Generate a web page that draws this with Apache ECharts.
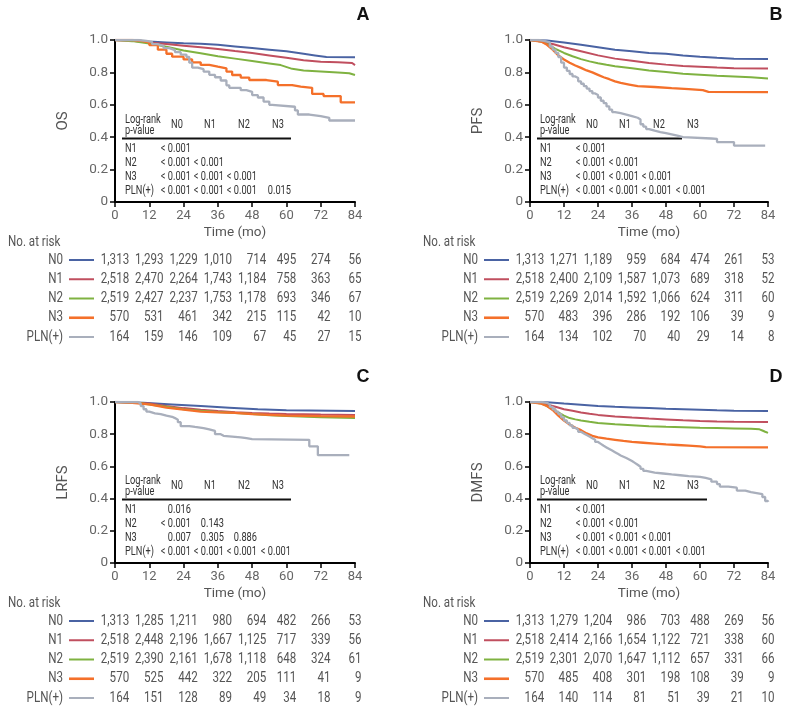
<!DOCTYPE html>
<html><head><meta charset="utf-8">
<script src="https://cdn.jsdelivr.net/npm/echarts@6/dist/echarts.min.js"></script>
<style>html,body{margin:0;padding:0;background:#fff}#c{width:790px;height:713px}</style>
</head><body><div id="c"></div>
<script>
// ---------------- DATA ----------------
const timeTicks = [0, 12, 24, 36, 48, 60, 72, 84];
const groups = ['N0', 'N1', 'N2', 'N3', 'PLN(+)'];
const panelLetters = ['A', 'B', 'C', 'D'];
const endpoints = ['OS', 'PFS', 'LRFS', 'DMFS'];
const pHeader = ['N0', 'N1', 'N2', 'N3'];
const pRows = ['N1', 'N2', 'N3', 'PLN(+)'];

// Kaplan-Meier curves [month, survival]
const osN0 = [[0,1],[6,0.998],[12,0.99],[18,0.985],[24,0.98],[30,0.977],[36,0.97],[42,0.96],[48,0.95],[54,0.94],[60,0.93],[66,0.915],[70,0.905],[74,0.895],[84,0.893]];
const osN1 = [[0,1],[6,0.995],[12,0.985],[18,0.975],[24,0.965],[30,0.955],[36,0.945],[42,0.932],[48,0.92],[54,0.905],[60,0.89],[66,0.875],[72,0.865],[78,0.862],[83,0.858],[84,0.845]];
const osN2 = [[0,1],[6,0.993],[12,0.978],[18,0.958],[24,0.935],[30,0.918],[36,0.9],[42,0.885],[48,0.87],[54,0.855],[58,0.845],[62,0.822],[66,0.812],[72,0.806],[78,0.8],[82,0.795],[84,0.784]];
const osN3 = [[0,1],[6,0.995],[9,0.985],[12,0.969],[15,0.94],[18,0.915],[20,0.897],[24,0.88],[27,0.862],[30,0.846],[33,0.835],[36,0.825],[39,0.805],[41,0.784],[44,0.768],[47,0.753],[53,0.743],[57,0.722],[62,0.712],[65,0.705],[69,0.667],[73,0.654],[79,0.615],[84,0.613]];
const osPLN = [[0,1],[8,0.994],[11,0.988],[13,0.975],[15,0.963],[17,0.95],[19,0.938],[21,0.925],[23,0.91],[25,0.895],[26,0.86],[27,0.83],[29,0.82],[31,0.805],[33,0.785],[35,0.77],[37,0.75],[39,0.72],[40,0.705],[44,0.69],[46,0.68],[48,0.66],[50,0.645],[52,0.62],[54,0.6],[55,0.588],[63,0.565],[64,0.54],[68,0.53],[72,0.52],[75,0.503],[84,0.503]];

const pfsN0 = [[0,1],[6,0.997],[12,0.985],[18,0.97],[24,0.955],[30,0.94],[36,0.93],[42,0.92],[48,0.915],[54,0.905],[60,0.897],[66,0.89],[72,0.885],[84,0.883]];
const pfsN1 = [[0,1],[4,0.99],[8,0.975],[12,0.955],[18,0.93],[24,0.905],[30,0.885],[36,0.872],[42,0.858],[48,0.848],[54,0.84],[60,0.835],[66,0.83],[72,0.826],[84,0.824]];
const pfsN2 = [[0,1],[4,0.99],[6,0.975],[9,0.945],[12,0.92],[15,0.9],[18,0.882],[21,0.868],[24,0.857],[27,0.847],[30,0.838],[36,0.825],[42,0.812],[48,0.802],[54,0.792],[60,0.786],[66,0.78],[72,0.775],[78,0.77],[84,0.763]];
const pfsN3 = [[0,1],[4,0.99],[6,0.97],[8,0.94],[10,0.905],[12,0.88],[14,0.86],[16,0.843],[18,0.828],[20,0.812],[22,0.8],[24,0.785],[26,0.77],[28,0.758],[30,0.745],[32,0.735],[35,0.725],[38,0.715],[44,0.71],[50,0.703],[56,0.697],[61,0.69],[63,0.68],[84,0.678]];
const pfsPLN = [[0,1],[3,0.995],[5,0.985],[7,0.96],[8,0.94],[9,0.92],[10,0.895],[11,0.86],[12,0.83],[13,0.81],[14,0.79],[15,0.775],[16,0.765],[17,0.745],[18,0.73],[19,0.715],[20,0.7],[21,0.685],[22,0.67],[23,0.66],[24,0.645],[25,0.625],[26,0.61],[27,0.59],[28,0.57],[29,0.555],[30,0.548],[32,0.54],[34,0.53],[36,0.52],[38,0.51],[39,0.48],[40,0.465],[41,0.45],[42,0.44],[44,0.432],[46,0.425],[48,0.418],[50,0.41],[52,0.4],[54,0.392],[64,0.39],[66,0.37],[72,0.348],[83,0.348]];

const lrfsN0 = [[0,1],[10,0.995],[20,0.985],[30,0.975],[40,0.965],[50,0.955],[60,0.948],[84,0.944]];
const lrfsN1 = [[0,1],[8,0.995],[12,0.99],[18,0.975],[24,0.962],[30,0.952],[36,0.944],[42,0.937],[48,0.932],[54,0.928],[60,0.925],[72,0.922],[84,0.92]];
const lrfsN2 = [[0,1],[8,0.995],[12,0.985],[18,0.97],[24,0.955],[30,0.945],[36,0.938],[42,0.932],[48,0.925],[54,0.918],[60,0.913],[72,0.905],[84,0.9]];
const lrfsN3 = [[0,1],[6,0.995],[12,0.985],[18,0.965],[24,0.952],[30,0.94],[36,0.935],[42,0.932],[48,0.925],[54,0.92],[60,0.915],[72,0.912],[84,0.91]];
const lrfsPLN = [[0,1],[8,0.99],[9,0.975],[10,0.955],[11,0.94],[12,0.93],[14,0.925],[16,0.915],[18,0.908],[20,0.9],[21,0.89],[22,0.875],[23,0.85],[26,0.845],[28,0.838],[31,0.83],[33,0.82],[35,0.8],[37,0.79],[38,0.78],[44,0.775],[46,0.77],[48,0.765],[68,0.725],[71,0.67],[82,0.67]];

const dmfsN0 = [[0,1],[6,0.998],[12,0.99],[18,0.983],[24,0.975],[30,0.97],[36,0.966],[42,0.962],[48,0.958],[54,0.955],[60,0.952],[66,0.948],[72,0.946],[84,0.944]];
const dmfsN1 = [[0,1],[4,0.995],[6,0.985],[9,0.97],[12,0.955],[15,0.945],[18,0.935],[21,0.927],[24,0.92],[30,0.91],[36,0.903],[42,0.897],[48,0.892],[54,0.886],[60,0.882],[66,0.879],[72,0.877],[84,0.876]];
const dmfsN2 = [[0,1],[4,0.99],[6,0.975],[8,0.955],[10,0.935],[12,0.915],[14,0.9],[16,0.892],[18,0.885],[21,0.877],[24,0.87],[30,0.862],[36,0.856],[42,0.85],[48,0.846],[54,0.843],[60,0.84],[66,0.838],[72,0.836],[78,0.834],[81,0.83],[82,0.823],[83,0.815],[84,0.808]];
const dmfsN3 = [[0,1],[4,0.99],[6,0.975],[8,0.95],[10,0.915],[12,0.885],[14,0.86],[16,0.84],[18,0.825],[20,0.805],[22,0.79],[24,0.78],[27,0.772],[30,0.765],[33,0.758],[36,0.752],[40,0.747],[44,0.742],[48,0.737],[52,0.733],[56,0.729],[60,0.725],[62,0.72],[84,0.718]];
const dmfsPLN = [[0,1],[4,0.995],[6,0.985],[7,0.97],[8,0.955],[9,0.94],[10,0.925],[11,0.905],[12,0.885],[13,0.87],[14,0.855],[15,0.84],[16,0.828],[17,0.815],[18,0.805],[19,0.795],[20,0.785],[21,0.775],[22,0.765],[23,0.752],[24,0.74],[25,0.728],[26,0.718],[27,0.708],[28,0.698],[29,0.688],[30,0.678],[31,0.668],[32,0.66],[33,0.652],[34,0.643],[35,0.633],[36,0.622],[37,0.61],[38,0.598],[39,0.585],[40,0.572],[41,0.562],[44,0.556],[47,0.55],[50,0.545],[53,0.54],[56,0.535],[60,0.528],[62,0.52],[64,0.505],[66,0.49],[67,0.475],[70,0.468],[73,0.45],[76,0.44],[78,0.428],[82,0.41],[83,0.385],[84,0.38]];

// Number at risk (rows: N0, N1, N2, N3, PLN(+); columns: 0..84 months)
const atRiskOS = [[1313,1293,1229,1010,714,495,274,56],[2518,2470,2264,1743,1184,758,363,65],[2519,2427,2237,1753,1178,693,346,67],[570,531,461,342,215,115,42,10],[164,159,146,109,67,45,27,15]];
const atRiskPFS = [[1313,1271,1189,959,684,474,261,53],[2518,2400,2109,1587,1073,689,318,52],[2519,2269,2014,1592,1066,624,311,60],[570,483,396,286,192,106,39,9],[164,134,102,70,40,29,14,8]];
const atRiskLRFS = [[1313,1285,1211,980,694,482,266,53],[2518,2448,2196,1667,1125,717,339,56],[2519,2390,2161,1678,1118,648,324,61],[570,525,442,322,205,111,41,9],[164,151,128,89,49,34,18,9]];
const atRiskDMFS = [[1313,1279,1204,986,703,488,269,56],[2518,2414,2166,1654,1122,721,338,60],[2519,2301,2070,1647,1112,657,331,66],[570,485,408,301,198,108,39,9],[164,140,114,81,51,39,21,10]];

// Log-rank p-values (lower triangle)
const pOS = [['< 0.001'],['< 0.001','< 0.001'],['< 0.001','< 0.001','< 0.001'],['< 0.001','< 0.001','< 0.001','0.015']];
const pPFS = [['< 0.001'],['< 0.001','< 0.001'],['< 0.001','< 0.001','< 0.001'],['< 0.001','< 0.001','< 0.001','< 0.001']];
const pLRFS = [['0.016'],['< 0.001','0.143'],['0.007','0.305','0.886'],['< 0.001','< 0.001','< 0.001','< 0.001']];
const pDMFS = [['< 0.001'],['< 0.001','< 0.001'],['< 0.001','< 0.001','< 0.001'],['< 0.001','< 0.001','< 0.001','< 0.001']];

// ---------------- STYLE / LAYOUT ----------------
const FONT = "Roboto,'Liberation Sans',sans-serif";
const SX_RISK = 0.8;   // horizontal condensing of at-risk table text
const SX_TAB = 0.7;    // horizontal condensing of log-rank table text
const groupColors = ['#4a63a3', '#c04f5f', '#7fb241', '#f4702a', '#a9afbc'];
const lineWidths = [2, 2, 2, 2.3, 2.3];
const curves = [[osN0,osN1,osN2,osN3,osPLN],[pfsN0,pfsN1,pfsN2,pfsN3,pfsPLN],[lrfsN0,lrfsN1,lrfsN2,lrfsN3,lrfsPLN],[dmfsN0,dmfsN1,dmfsN2,dmfsN3,dmfsPLN]];
const stepped = [[false,false,false,true,true],[false,false,false,false,true],[false,false,false,false,true],[false,false,false,false,true]];
const risks = [atRiskOS, atRiskPFS, atRiskLRFS, atRiskDMFS];
const pvals = [pOS, pPFS, pLRFS, pDMFS];
const gridsPos = [
  {left:115, top:40, width:240, height:162},
  {left:530, top:40, width:238, height:162},
  {left:115, top:402, width:240, height:161},
  {left:530, top:402, width:238, height:161}
];
const tableLineEnd = [176, 152, 176, 177];

const chart = echarts.init(document.getElementById('c'), null, {renderer:'canvas'});

const grid = [], xAxis = [], yAxis = [], series = [];
gridsPos.forEach((g, i) => {
  grid.push(Object.assign({containLabel:false}, g));
  xAxis.push({
    type:'value', gridIndex:i, min:0, max:84, interval:12,
    name:'Time (mo)', nameLocation:'middle', nameGap:24,
    nameTextStyle:{fontFamily:FONT, fontSize:13.5, color:'#555'},
    axisLine:{show:true, onZero:false, lineStyle:{color:'#000', width:2}},
    axisTick:{show:true, length:5, lineStyle:{color:'#000', width:1.5}},
    axisLabel:{fontFamily:FONT, fontSize:13, color:'#666', margin:7},
    splitLine:{show:false}
  });
  yAxis.push({
    type:'value', gridIndex:i, min:0, max:1, interval:0.2,
    name:endpoints[i], nameLocation:'middle', nameGap:44,
    nameTextStyle:{fontFamily:FONT, fontSize:15, color:'#555'},
    axisLine:{show:true, lineStyle:{color:'#000', width:2}},
    axisTick:{show:true, length:5, lineStyle:{color:'#000', width:1.5}},
    axisLabel:{fontFamily:FONT, fontSize:13.5, color:'#666', margin:7,
      formatter: v => (Math.abs(v) < 1e-9 ? '0' : v.toFixed(1))},
    splitLine:{show:false}
  });
  curves[i].forEach((d, k) => {
    series.push({
      type:'line', xAxisIndex:i, yAxisIndex:i, data:d, step: stepped[i][k] ? 'end' : false,
      showSymbol:false, symbol:'none', silent:true, z: 3 + k,
      lineStyle:{color:groupColors[k], width: lineWidths[k]},
      itemStyle:{color:groupColors[k]}
    });
  });
});

chart.setOption({animation:false, backgroundColor:'#fff', grid, xAxis, yAxis, series});

// measure text widths
const mctx = document.createElement('canvas').getContext('2d');
function textW(str, size, sx) { mctx.font = size + 'px ' + FONT; return mctx.measureText(str).width * sx; }
const fmt = n => n.toLocaleString('en-US');

const graphics = [];
function txt(x, y, s, opt, sx) {
  graphics.push({type:'text', x, y, scaleX: sx, silent:true, z:10,
    style:Object.assign({text:s, fontFamily:FONT, fontSize:13, fill:'#444', textAlign:'left', textVerticalAlign:'middle'}, opt || {})});
}
function seg(x1, y1, x2, y2, color, w) {
  graphics.push({type:'line', silent:true, z:1, shape:{x1,y1,x2,y2}, style:{stroke:color, lineWidth:w}});
}

gridsPos.forEach((g, i) => {
  const o = chart.convertToPixel({gridIndex:i}, [0, 0]);
  const ox = o[0], oy = o[1];
  const topY = chart.convertToPixel({gridIndex:i}, [0, 1])[1];
  // panel letter
  txt(g.left + g.width + 8, topY - 25, panelLetters[i], {fontSize:18, fontWeight:'bold', fill:'#111', textAlign:'center', fontFamily:"'Liberation Sans',Arial,sans-serif"}, 1);
  // log-rank table
  const fs = 13.2, tc = '#333';
  txt(ox + 10, oy - 82, 'Log-rank', {fontSize:fs, fill:tc}, SX_TAB);
  txt(ox + 10, oy - 71, 'p-value', {fontSize:fs, fill:tc}, SX_TAB);
  const hdrX = [62, 95, 129, 163];
  pHeader.forEach((h, k) => txt(ox + hdrX[k], oy - 77, h, {fontSize:fs, fill:tc, textAlign:'center'}, SX_TAB));
  seg(ox + 7, oy - 63.5, ox + tableLineEnd[i], oy - 63.5, '#111', 2.2);
  const valR = [76, 109, 142, 176];
  pRows.forEach((r, k) => {
    const yy = oy - 53.5 + k * 14.2;
    txt(ox + 10, yy, r, {fontSize:fs, fill:tc}, SX_TAB);
    pvals[i][k].forEach((v, j) => txt(ox + valR[j], yy, v, {fontSize:fs, fill:tc, textAlign:'right'}, SX_TAB));
  });
  // number at risk table
  const rs = 14.5, rc = '#555';
  txt(ox - 107, oy + 40, 'No. at risk', {fontSize:rs, fill:rc}, SX_RISK);
  const rk = risks[i];
  const colMax = timeTicks.map((t, c) => Math.max(...rk.map(row => textW(fmt(row[c]), rs, SX_RISK))));
  rk.forEach((row, r) => {
    const yy = oy + 58 + r * 19.25;
    txt(ox - 52, yy, groups[r], {fontSize:rs, fill:rc, textAlign:'right'}, SX_RISK);
    seg(ox - 46, yy, ox - 21, yy, groupColors[r], r === 3 ? 2.6 : 2);
    row.forEach((n, c) => {
      const px = chart.convertToPixel({xAxisIndex:i}, timeTicks[c]);
      txt(px + colMax[c] / 2, yy, fmt(n), {fontSize:rs, fill:rc, textAlign:'right'}, SX_RISK);
    });
  });
});

chart.setOption({graphic:{elements:graphics}});
</script></body></html>
